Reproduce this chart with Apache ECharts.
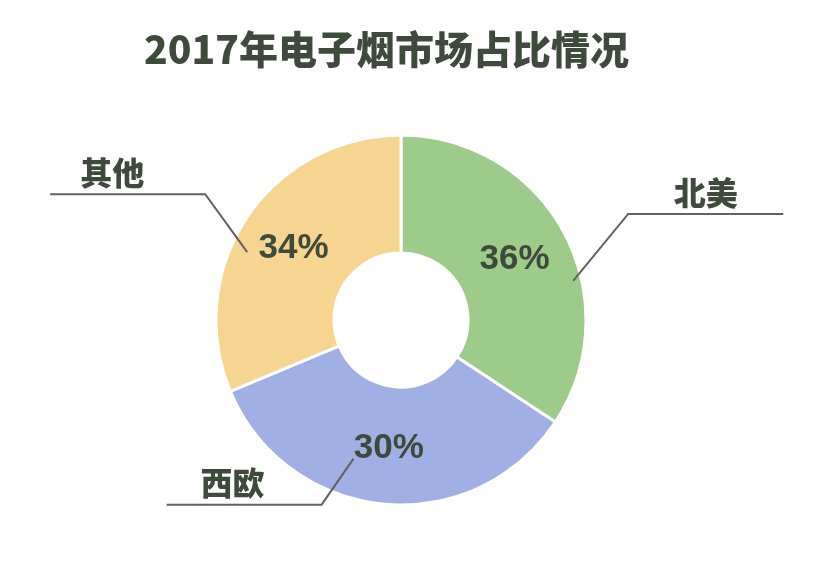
<!DOCTYPE html>
<html><head><meta charset="utf-8">
<script src="https://cdn.jsdelivr.net/npm/echarts@6/dist/echarts.min.js"></script>
<style>html,body{margin:0;padding:0;background:#fff}#c{width:820px;height:571px}</style>
</head><body><div id="c"></div>
<script>
// ---- data ----
const regions = ['北美', '西欧', '其他'];
const shares = [34.3, 34.4, 31.3];          // slice sizes as drawn in the picture
const shareLabels = ['36%', '30%', '34%'];  // percentages printed on the slices
const titleText = '2017年电子烟市场占比情况';

// ---- chart ----
const chart = echarts.init(document.getElementById('c'));
const textColor = '#3e4a3b';
const cjk = '"Noto Sans CJK SC", sans-serif';
const narrow = '"Liberation Sans Narrow", "Liberation Sans", sans-serif';
const CENTER = [401, 320];
const RADIUS = [67, 185];

function nameRich(align, padLeft) {
  return {
    n: { fontFamily: cjk, fontSize: 32, fontWeight: 900, color: textColor, lineHeight: 42,
         width: 155 - padLeft, align: align, padding: [0, 0, 0, padLeft] },
    s: { fontSize: 10, lineHeight: 42, width: 155 }
  };
}
// leader-line lengths and label text placement per slice (style only)
const labelStyle = [
  { line: { length: 40, length2: 24 }, rich: nameRich('center', 0) },
  { line: { length: 0, length2: 57 }, rich: nameRich('left', 34) },
  { line: { length: 43, length2: 1 }, rich: nameRich('left', 30) }
];

const baseData = regions.map((n, i) => ({ name: n, value: shares[i] }));

const option = {
  backgroundColor: '#fff',
  animation: false,
  color: ['#9ccb8a', '#a1b0e4', '#f6d590'],
  title: {
    text: titleText, left: 139, top: 25,
    textStyle: { fontFamily: cjk, fontSize: 39, fontWeight: 900, color: textColor }
  },
  series: [
    {
      type: 'pie', z: 2, radius: RADIUS, center: CENTER, startAngle: 90, clockwise: true, silent: true,
      itemStyle: { borderColor: '#fff', borderWidth: 3 },
      label: {
        position: 'inside', formatter: p => shareLabels[p.dataIndex],
        fontFamily: narrow, fontStyle: 'condensed', fontSize: 35, fontWeight: 'bold', color: textColor
      },
      labelLine: { show: false },
      data: baseData
    },
    {
      type: 'pie', z: 5, radius: RADIUS, center: CENTER, startAngle: 90, clockwise: true, silent: true,
      itemStyle: { color: 'transparent', borderWidth: 0 },
      avoidLabelOverlap: false,
      label: {
        show: true, position: 'outside', formatter: '{n|{b}}\n{s| }',
        rich: nameRich('center', 0)
      },
      labelLine: { show: true, smooth: false, lineStyle: { color: '#616161', width: 2 } },
      labelLayout: function (params) {
        const r = params.labelRect;
        if (!params.labelLinePoints) return {};
        const left = r.x + r.width / 2 < CENTER[0];
        const y = r.y + r.height / 2 + 6;
        const near = left ? r.x + r.width : r.x;
        const far = left ? r.x : r.x + r.width;
        const up = y < CENTER[1];
        const off = left ? (up ? [42, 58] : [32, -46]) : [-55, 67];
        const p0 = [near + off[0], y + off[1]];
        return { labelLinePoints: [p0, [near, y], [far, y]] };
      },
      data: baseData.map((d, i) => Object.assign({}, d, {
        labelLine: labelStyle[i].line,
        label: { rich: labelStyle[i].rich }
      }))
    }
  ]
};
chart.setOption(option);
</script>
</body></html>
